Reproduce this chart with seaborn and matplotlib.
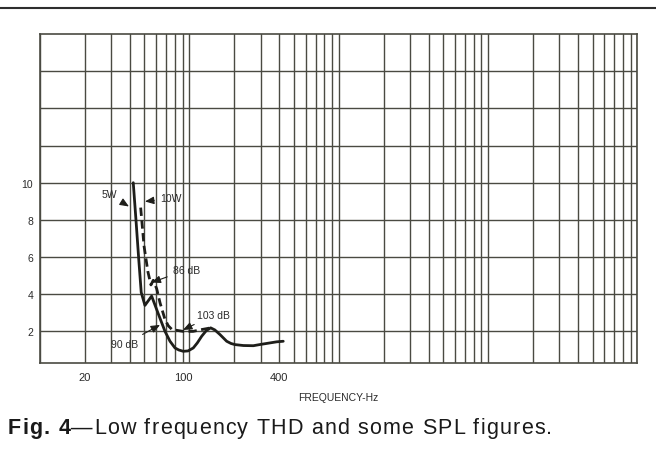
import matplotlib
matplotlib.use("Agg")
import matplotlib.pyplot as plt
import matplotlib.transforms as mtransforms
from matplotlib.lines import Line2D
from matplotlib.ticker import FixedLocator, FixedFormatter, NullFormatter
import numpy as np
import pandas as pd
import seaborn as sns

# Total harmonic distortion (%) against frequency (Hz), 5 W drive
freq_5w = [42.1, 43.9, 45.8, 47.6, 50.4, 55.9, 61.9, 68.7, 74.2, 80.1, 85.0, 91.0,
           98.0, 106.2, 113.0, 120.9, 130.0, 138.9, 148.0, 160.3, 177.7, 190.0,
           202.0, 230.0, 268.0, 300.0, 346.0, 385.0, 425.0]
thd_5w = [10.0, 8.0, 5.9, 4.1, 3.4, 3.9, 2.95, 2.0, 1.47, 1.11, 1.0, 0.93,
          0.95, 1.11, 1.38, 1.74, 2.05, 2.19, 2.08, 1.83, 1.47, 1.35,
          1.29, 1.24, 1.23, 1.3, 1.38, 1.44, 1.47]

# 10 W drive
freq_10w = [47.2, 49.7, 52.8, 55.3, 57.3, 60.4, 63.6, 68.7, 72.3, 76.5, 91.0,
            105.7, 121.0, 138.9]
thd_10w = [8.66, 6.6, 5.2, 4.5, 4.75, 4.3, 3.54, 2.64, 2.3, 2.1, 2.0,
           2.0, 2.1, 2.19]

x_ticks = [20, 100, 400]
x_tick_labels = ["20", "100", "400"]
y_ticks = [2, 4, 6, 8, 10, 12, 14, 16]
y_tick_labels = ["2", "4", "6", "8", "10", "", "", ""]

# Call-outs: label, text position (Hz, %), arrow tip (Hz, %)
callout_labels = ["5W", "10W", "86 dB", "90 dB", "103 dB"]
callout_text_pos = [(28.9, 9.39), (75.3, 9.16), (95.9, 5.31), (37.1, 1.32), (146.0, 2.88)]
callout_tips = [(39.4, 8.72), (50.4, 8.99), (55.8, 4.63), (63.6, 2.35), (90.6, 2.08)]

caption_bold = "Fig. 4"
caption_rest = "—Low frequency THD and some SPL figures."

INK = "#1e1e1a"
GRID = "#4a4a42"

sns.set_theme(style="white")
plt.rcParams["font.family"] = ["Liberation Sans", "DejaVu Sans"]

W, H = 656, 452
fig = plt.figure(figsize=(W / 100, H / 100), dpi=100)
fig.patch.set_facecolor("white")
ax = fig.add_axes([40 / W, 1 - 364 / H, 597.5 / W, 329 / H])
ax.set_facecolor("white")
ax.set_xscale("log")
ax.set_xlim(10, 1e5)
ax.set_ylim(0.3, 18)

df = pd.concat([
    pd.DataFrame({"freq": freq_5w, "thd": thd_5w, "power": "5W"}),
    pd.DataFrame({"freq": freq_10w, "thd": thd_10w, "power": "10W"}),
], ignore_index=True)

sns.lineplot(data=df, x="freq", y="thd", style="power",
             dashes={"5W": "", "10W": (3.0, 1.6)}, color=INK, linewidth=2.0,
             sort=False, estimator=None, legend=False, ax=ax, zorder=5)

# log-paper grid: every integer multiple in each decade
grid_x = [m * 10 ** k for k in range(1, 5) for m in range(1, 10)] + [1e5]
ax.xaxis.remove_overlapping_locs = False
ax.xaxis.set_major_locator(FixedLocator(x_ticks))
ax.xaxis.set_major_formatter(FixedFormatter(x_tick_labels))
ax.xaxis.set_minor_locator(FixedLocator(grid_x))
ax.xaxis.set_minor_formatter(NullFormatter())
ax.yaxis.set_major_locator(FixedLocator(y_ticks))
ax.yaxis.set_major_formatter(FixedFormatter(y_tick_labels))
ax.grid(False)
ax.grid(True, which="minor", axis="x", color=GRID, linewidth=1.0)
ax.grid(True, which="major", axis="y", color=GRID, linewidth=1.0)
ax.tick_params(axis="both", which="both", length=0)
ax.tick_params(axis="x", pad=6.5, labelsize=8, labelcolor="#2a2a2a")
ax.tick_params(axis="y", pad=5, labelsize=7.5, labelcolor="#2a2a2a")
for s in ax.spines.values():
    s.set_color(GRID)
    s.set_linewidth(1.2)
    s.set_visible(True)

ax.set_xlabel("FREQUENCY-Hz", fontsize=7.5, color="#2a2a2a")
ax.xaxis.set_label_coords(0.5, -(398 - 364) / 329)
ax.xaxis.label.set_va("center")
ax.set_ylabel("")

for label, txt, tip in zip(callout_labels, callout_text_pos, callout_tips):
    ax.annotate(label, xy=tip, xytext=txt, ha="center", va="center",
                fontsize=7.5, color="#2a2a2a", zorder=6,
                arrowprops=dict(arrowstyle="-|>,head_length=0.6,head_width=0.25",
                                color=INK, lw=0.8, mutation_scale=9,
                                shrinkA=2, shrinkB=0))

# nudge the "100" label slightly left
fig.canvas.draw()
lab = ax.get_xticklabels()[1]
lab.set_transform(lab.get_transform() +
                  mtransforms.ScaledTranslation(-0.06, 0, fig.dpi_scale_trans))

# rule across the top of the page
fig.add_artist(Line2D([0, 1], [1 - 9 / H, 1 - 9 / H], transform=fig.transFigure,
                      color="#2e2e2e", linewidth=1.5))

# caption, letter-spaced between x = 8 and x = 552 px
renderer = fig.canvas.get_renderer()
cap_fs = 15.5
cap_y = 1 - 434 / H
glyphs = [(c, "bold") for c in caption_bold] + [(c, "normal") for c in caption_rest]


def advance(ch, weight):
    a = fig.text(0, 0, "l" + ch + "l", fontsize=cap_fs, fontweight=weight)
    b = fig.text(0, 0, "ll", fontsize=cap_fs, fontweight=weight)
    w = a.get_window_extent(renderer).width - b.get_window_extent(renderer).width
    a.remove()
    b.remove()
    return w


widths = [advance(c, wt) for c, wt in glyphs]
extra = (544 - sum(widths)) / (len(glyphs) - 1)
x = 8.0
for (c, wt), w in zip(glyphs, widths):
    if c != " ":
        fig.text(x / W, cap_y, c, fontsize=cap_fs, fontweight=wt, color="#1a1a1a",
                 ha="left", va="baseline")
    x += w + extra

fig.savefig("out.png", dpi=100, facecolor="white")
